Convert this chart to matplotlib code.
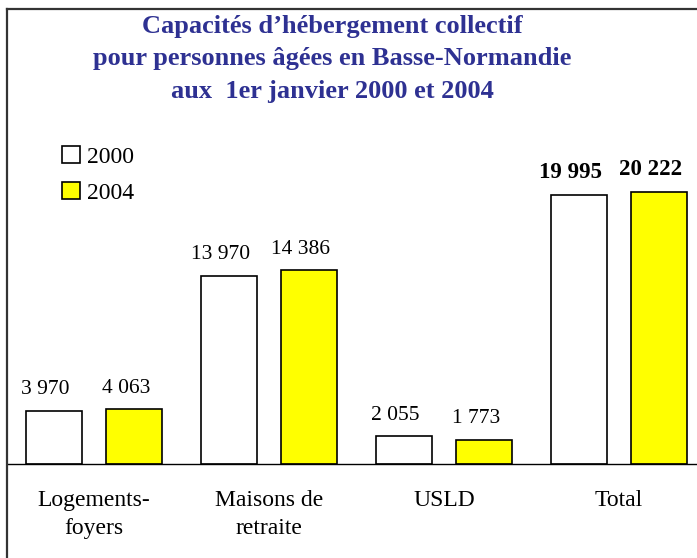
import matplotlib.pyplot as plt

categories = ["Logements-\nfoyers", "Maisons de\nretraite", "USLD", "Total"]
years = ["2000", "2004"]
values_2000 = [3970, 13970, 2055, 19995]
values_2004 = [4063, 14386, 1773, 20222]
value_labels_2000 = ["3 970", "13 970", "2 055", "19 995"]
value_labels_2004 = ["4 063", "14 386", "1 773", "20 222"]
title_lines = ["Capacités d’hébergement collectif",
               "pour personnes âgées en Basse-Normandie",
               "aux  1er janvier 2000 et 2004"]

plt.rcParams['font.family'] = ['Liberation Serif', 'DejaVu Serif']

fig = plt.figure(figsize=(6.97, 5.58), dpi=100)
W, H = 697, 558
# axes spans the framed box: its left/top spines are the frame
ax = fig.add_axes([6.5 / W, 1 - 575 / H, 700 / W, (575 - 9) / H])
ax.set_xlim(0, 4)
ax.set_ylim(-8241, 33779)

x = [i + 0.5 for i in range(len(categories))]
off = 0.229
w = 0.32
b1 = ax.bar([p - off for p in x], values_2000, w, color="white",
            edgecolor="black", linewidth=1.2, label=years[0])
b2 = ax.bar([p + off for p in x], values_2004, w, color="#FFFF00",
            edgecolor="black", linewidth=1.2, label=years[1])
ax.axhline(0, color="black", linewidth=1)

for bars, labs in ((b1, value_labels_2000), (b2, value_labels_2004)):
    for i, (r, lab) in enumerate(zip(bars, labs)):
        bold = categories[i] == "Total"
        ax.annotate(lab, (r.get_x() + r.get_width() / 2, r.get_height()),
                    xytext=(-6, 12), textcoords="offset points",
                    ha="center", va="baseline",
                    fontsize=16.5 if bold else 15.5,
                    fontweight="bold" if bold else "normal")

for p, c in zip(x, categories):
    ax.text(p, -1950, c, ha="center", va="top", fontsize=17,
            linespacing=1.45)

for s in ("left", "top", "right", "bottom"):
    ax.spines[s].set_color("#333333")
    ax.spines[s].set_linewidth(1.6)
ax.set_xticks([])
ax.set_yticks([])

fig.legend(handles=[b1, b2], loc="upper left",
           bbox_to_anchor=(62 / W, 1 - 146 / H), frameon=False,
           fontsize=17, handlelength=0.75, handleheight=0.75,
           handletextpad=0.3, labelspacing=0.6, borderpad=0,
           borderaxespad=0)

# title, one text per line
for k, line in enumerate(title_lines):
    fig.text(332 / W, 1 - (33 + 32.5 * k) / H, line,
             ha="center", va="baseline", fontsize=19, fontweight="bold",
             color="#2E3192")

fig.savefig("out.png", dpi=100)
